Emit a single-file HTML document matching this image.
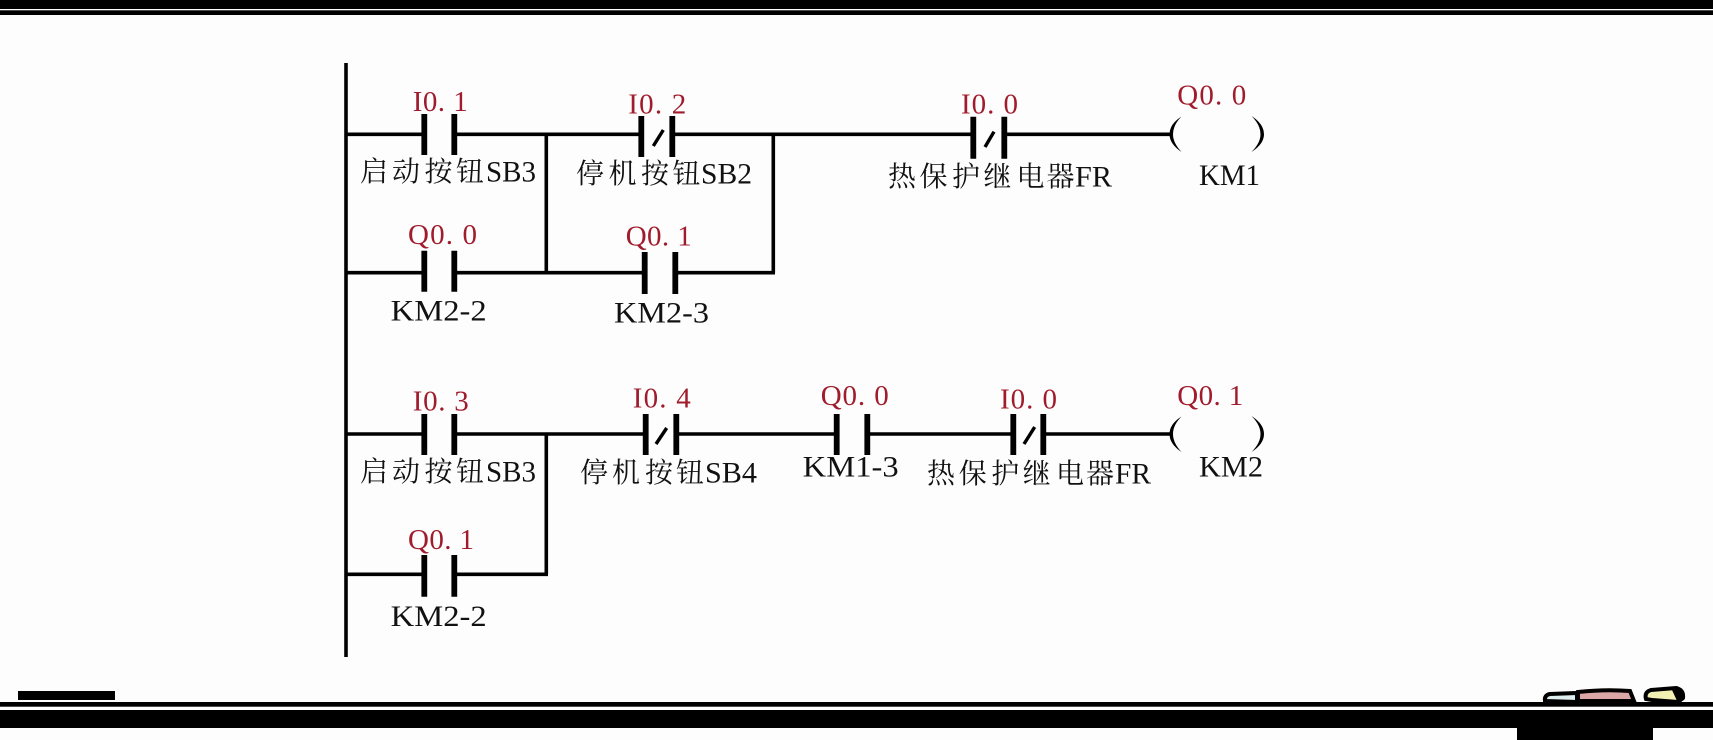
<!DOCTYPE html>
<html><head><meta charset="utf-8">
<style>
html,body{margin:0;padding:0;background:#fdfdfd;width:1713px;height:740px;overflow:hidden}
svg{display:block}
.w{stroke:#000;stroke-width:3.6;fill:none}
.b{stroke:#000;stroke-width:5.8;fill:none}
.s{stroke:#000;stroke-width:3.4;fill:none}
.p{fill:#000;stroke:none}
.r{font:29px "Liberation Serif",serif;fill:#a01c2c}
.k{font:30px "Liberation Serif",serif;fill:#111}
.c{font:400 28px "Noto Serif CJK SC","Liberation Serif",serif;fill:#111}
</style></head>
<body>
<svg width="1713" height="740" viewBox="0 0 1713 740" xmlns="http://www.w3.org/2000/svg">
<rect width="1713" height="740" fill="#fdfdfd"/>
<!-- frame -->
<rect x="0" y="0" width="1713" height="9" fill="#000"/>
<rect x="0" y="10.3" width="1713" height="4.7" fill="#000"/>
<rect x="18" y="691" width="97" height="9" fill="#000"/>
<rect x="0" y="702" width="1713" height="4.7" fill="#000"/>
<rect x="0" y="710" width="1713" height="18" fill="#000"/>
<rect x="1517" y="728" width="136" height="12" fill="#000"/>
<!-- crayons -->
<path d="M1545 701 Q1544 695 1550 694 L1577 693 L1577 702 Z" fill="#dfeeee" stroke="#000" stroke-width="4"/>
<path d="M1578 701 L1578 692 Q1605 689 1630 691 L1634 701 Z" fill="#dba6a6" stroke="#000" stroke-width="4"/>
<path d="M1646 699 Q1644 692 1651 690 L1676 688 Q1684 690 1683 698 L1678 702 L1652 700 Z" fill="#f3f0b4" stroke="#000" stroke-width="4"/>
<path d="M1674 687 Q1686 689 1684 700 L1678 703 L1672 690 Z" fill="#000"/>
<!-- wires -->
<g class="w">
<path d="M346 63V657"/>
<path d="M346 134.3H424M454 134.3H641M672 134.3H973M1004 134.3H1171"/>
<path d="M546.3 134.3V272.7M773.3 134.3V272.7"/>
<path d="M346 272.7H424M454 272.7H645M675 272.7H775"/>
<path d="M346 434H424M454 434H646M676 434H837M867 434H1013M1043 434H1171"/>
<path d="M546.3 434V574.3"/>
<path d="M346 574.3H424M454 574.3H548"/>
</g>
<!-- contact bars -->
<g class="b">
<path d="M424.3 114V155M454.3 114V155"/>
<path d="M641.3 116V157M672.3 116V157"/>
<path d="M973.3 116.7V158.7M1004.3 116.7V158.7"/>
<path d="M424.3 250.7V291.7M454.3 250.7V291.7"/>
<path d="M644.7 252V294M675.3 252V294"/>
<path d="M424.3 414V455M454.3 414V455"/>
<path d="M645.7 414V455M676.3 414V455"/>
<path d="M836.7 414V455M867.3 414V455"/>
<path d="M1013.3 414V455M1043.3 414V455"/>
<path d="M424.3 555V596.7M454.3 555V596.7"/>
</g>
<!-- NC slashes -->
<g class="s">
<path d="M653.3 146L663.3 130"/>
<path d="M985 147L994 131.7"/>
<path d="M656 444L666.7 428"/>
<path d="M1024 444L1034.7 427"/>
</g>
<!-- coils -->
<g class="p">
<path d="M1181.5 116.5Q1169.5 124 1169.5 134.3Q1169.5 144 1181.5 152Q1173 143 1173 134.3Q1173 125 1181.5 116.5Z"/>
<path d="M1251.5 116Q1264 124 1264 134.3Q1264 144 1251.5 152Q1260.5 143 1260.5 134.3Q1260.5 125 1251.5 116Z"/>
<path d="M1181.5 416.5Q1169.5 424 1169.5 434Q1169.5 444 1181.5 452Q1173 443 1173 434Q1173 425 1181.5 416.5Z"/>
<path d="M1251.5 416Q1264 424 1264 434Q1264 444 1251.5 452Q1260.5 443 1260.5 434Q1260.5 425 1251.5 416Z"/>
</g>
<!-- red addresses -->
<text class="r" x="412.7" y="111" textLength="55">I0. 1</text>
<text class="r" x="628.3" y="113.3" textLength="58">I0. 2</text>
<text class="r" x="961" y="113.3" textLength="57">I0. 0</text>
<text class="r" x="1177.3" y="104.3" textLength="69">Q0. 0</text>
<text class="r" x="408" y="244" textLength="69">Q0. 0</text>
<text class="r" x="625.7" y="245.7" textLength="66">Q0. 1</text>
<text class="r" x="412.7" y="410.7" textLength="56">I0. 3</text>
<text class="r" x="632.7" y="407.3" textLength="58">I0. 4</text>
<text class="r" x="820.7" y="405" textLength="68">Q0. 0</text>
<text class="r" x="1000" y="408.3" textLength="57">I0. 0</text>
<text class="r" x="1177.3" y="405" textLength="66">Q0. 1</text>
<text class="r" x="408" y="549" textLength="66">Q0. 1</text>
<!-- black labels -->
<text class="c" x="360 392 424.5 456" y="181">启动按钮</text>
<text class="k" x="486" y="181.7" textLength="50" lengthAdjust="spacingAndGlyphs">SB3</text>
<text class="c" x="576 608.5 641 672.5" y="183">停机按钮</text>
<text class="k" x="701" y="183.3" textLength="51" lengthAdjust="spacingAndGlyphs">SB2</text>
<text class="c" x="888 919.5 952 983.5 1016.5 1046.5" y="186">热保护继电器</text>
<text class="k" x="1075" y="186.7" textLength="37" lengthAdjust="spacingAndGlyphs">FR</text>
<text class="k" x="1199" y="185" textLength="61" lengthAdjust="spacingAndGlyphs">KM1</text>
<text class="k" x="390.7" y="320.7" textLength="96" lengthAdjust="spacingAndGlyphs">KM2-2</text>
<text class="k" x="614" y="322.7" textLength="95" lengthAdjust="spacingAndGlyphs">KM2-3</text>
<text class="c" x="360 392 424.5 456" y="481">启动按钮</text>
<text class="k" x="486" y="481.7" textLength="50" lengthAdjust="spacingAndGlyphs">SB3</text>
<text class="c" x="580 612 645 676" y="482">停机按钮</text>
<text class="k" x="705" y="482.7" textLength="52" lengthAdjust="spacingAndGlyphs">SB4</text>
<text class="k" x="802.7" y="476.7" textLength="96" lengthAdjust="spacingAndGlyphs">KM1-3</text>
<text class="c" x="927 958.8 991.2 1022.8 1056 1086" y="483">热保护继电器</text>
<text class="k" x="1115" y="483.3" textLength="36" lengthAdjust="spacingAndGlyphs">FR</text>
<text class="k" x="1199" y="476.7" textLength="64" lengthAdjust="spacingAndGlyphs">KM2</text>
<text class="k" x="390.7" y="626" textLength="96" lengthAdjust="spacingAndGlyphs">KM2-2</text>
</svg>
</body></html>
